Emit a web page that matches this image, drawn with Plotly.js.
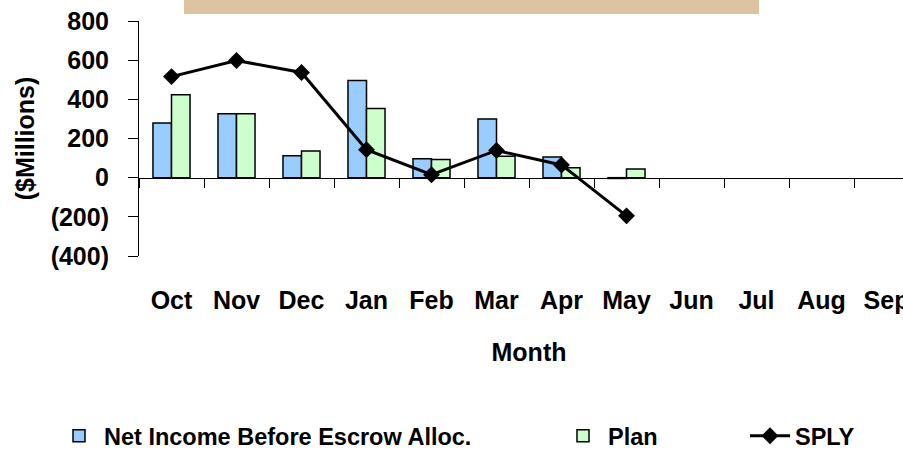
<!DOCTYPE html>
<html>
<head>
<meta charset="utf-8">
<script src="https://cdn.plot.ly/plotly-3.0.1.min.js"></script>
<style>
html,body{margin:0;padding:0;overflow:hidden;background:#fff;}
#chart{width:930px;height:449px;}
</style>
</head>
<body>
<div id="chart"></div>
<script>
const months = ["Oct","Nov","Dec","Jan","Feb","Mar","Apr","May","Jun","Jul","Aug","Sep"];
const netIncome = [279, 326, 112, 496, 97, 299, 105, -4, null, null, null, null];
const plan = [423, 326, 136, 353, 93, 109, 51, 44, null, null, null, null];
const sply = [516, 598, 537, 143, 15, 139, 65, -195, null, null, null, null];
const yTickVals = [-400, -200, 0, 200, 400, 600, 800];
const yTickText = ["(400)", "(200)", "0", "200", "400", "600", "800"];

const FONT = "'Liberation Sans Narrow', 'Arial Narrow', 'Liberation Sans', Arial, sans-serif";
const fnt = (s) => ({family: FONT, size: s, color: '#000', weight: 'bold'});

const traces = [
  {type:'bar', name:'Net Income Before Escrow Alloc.', x:months, y:netIncome,
   marker:{color:'#99CCFF', line:{color:'#000', width:1.5}}, legend:'legend'},
  {type:'bar', name:'Plan', x:months, y:plan,
   marker:{color:'#CCFFCC', line:{color:'#000', width:1.5}}, legend:'legend2'},
  {type:'scatter', mode:'lines+markers', name:'SPLY', x:months, y:sply,
   line:{color:'#000', width:3}, marker:{symbol:'diamond', size:13, color:'#000'},
   connectgaps:false, legend:'legend3'},
  {type:'scatter', mode:'lines', x:months, y:months.map(()=>null), xaxis:'x2',
   showlegend:false, hoverinfo:'skip'}
];

const L = 139, W = 780, T = 21, H = 235;
const px = (p) => (p - L) / W;
const py = (p) => (T + H - p) / H;

const legBase = {orientation:'h', yanchor:'middle', xanchor:'left', font:fnt(23.5),
  bgcolor:'rgba(0,0,0,0)', itemwidth:40, tracegroupgap:0};

const layout = {
  width:930, height:449,
  margin:{l:L, r:930-L-W, t:T, b:449-T-H, autoexpand:false},
  paper_bgcolor:'#fff', plot_bgcolor:'#fff',
  barmode:'group', bargap:0.43, bargroupgap:0,
  font:fnt(25),
  xaxis:{type:'category', categoryorder:'array', categoryarray:months, range:[-0.5,11.5],
    showline:false, showgrid:false, zeroline:false, ticks:'', ticklabelstandoff:27,
    tickfont:fnt(25),
    title:{text:'Month', font:fnt(25), standoff:30}},
  xaxis2:{type:'category', categoryorder:'array', categoryarray:months, range:[-0.5,11.5],
    overlaying:'x', anchor:'free', position:1/3, showline:true, linecolor:'#000', linewidth:1,
    ticks:'outside', tickson:'boundaries', ticklen:9, tickcolor:'#000', tickwidth:1,
    showticklabels:false, showgrid:false, zeroline:false},
  yaxis:{range:[-400,800], tickvals:yTickVals, ticktext:yTickText, showgrid:false,
    zeroline:false, showline:true, linecolor:'#000', linewidth:1,
    ticks:'outside', ticklen:10, tickcolor:'#000', ticklabelstandoff:14,
    tickfont:fnt(25),
    title:{text:'($Millions)', font:fnt(25), standoff:8}},
  legend: Object.assign({}, legBase, {x:px(54), y:py(436)}),
  legend2: Object.assign({}, legBase, {x:px(558), y:py(436)}),
  legend3: Object.assign({}, legBase, {x:px(745), y:py(436)}),
  shapes:[{type:'rect', xref:'paper', yref:'paper', x0:px(184), x1:px(759), y0:py(14), y1:py(-5),
    fillcolor:'#DEC3A0', line:{width:0}, layer:'above'}]
};

Plotly.newPlot('chart', traces, layout, {displayModeBar:false, staticPlot:true});
</script>
</body>
</html>
